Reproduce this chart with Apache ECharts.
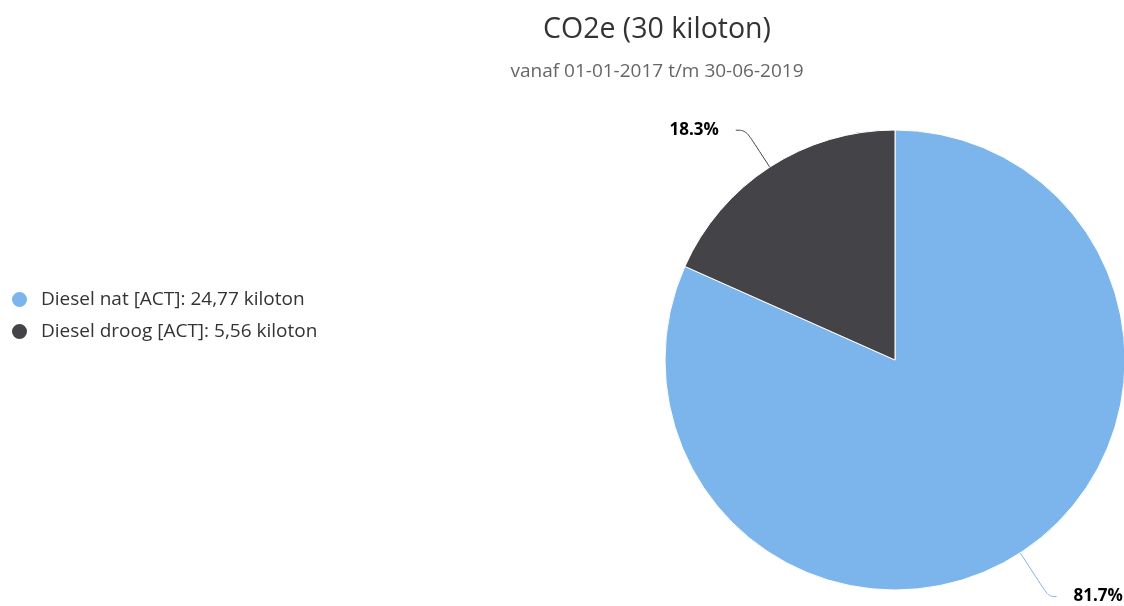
<!DOCTYPE html>
<html>
<head>
<meta charset="utf-8">
<script src="https://cdn.jsdelivr.net/npm/echarts@6/dist/echarts.min.js"></script>
<style>
html,body{margin:0;padding:0;background:#fff;}
#c{width:1124px;height:606px;}
</style>
</head>
<body>
<div id="c"></div>
<script>
const categories = ['Diesel nat [ACT]', 'Diesel droog [ACT]'];
const values = [24.77, 5.56];
const colors = ['#7cb5ec', '#434348'];
const unit = 'kiloton';

const total = values.reduce((a, b) => a + b, 0);
const fmt = v => v.toFixed(2).replace('.', ',');
const lineLengths = [[52, 8], [44, 10]];

const chart = echarts.init(document.getElementById('c'));
chart.setOption({
  animation: false,
  textStyle: { fontFamily: 'Open Sans' },
  title: [
    {
      text: 'CO2e (30 kiloton)',
      left: 652, top: 10, textAlign: 'center',
      textStyle: { fontFamily: 'Open Sans', fontSize: 28.5, fontWeight: 'normal', color: '#333333' }
    },
    {
      text: 'vanaf 01-01-2017 t/m 30-06-2019',
      left: 652, top: 57, textAlign: 'center',
      textStyle: { fontFamily: 'Open Sans', fontSize: 19, fontWeight: 'normal', color: '#666666' }
    }
  ],
  legend: {
    orient: 'vertical',
    left: 5, top: 285,
    icon: 'circle',
    itemWidth: 17, itemHeight: 17, itemGap: 13,
    data: categories,
    formatter: name => {
      const i = categories.indexOf(name);
      return name + ': ' + fmt(values[i]) + ' ' + unit;
    },
    textStyle: { fontFamily: 'Open Sans', fontSize: 19, color: '#333333', padding: [0, 0, 0, 8] }
  },
  series: [{
    type: 'pie',
    center: [895, 360],
    radius: 230,
    startAngle: 90,
    clockwise: true,
    data: categories.map((n, i) => ({
      name: n, value: values[i],
      itemStyle: { color: colors[i] },
      labelLine: { length: lineLengths[i][0], length2: lineLengths[i][1] }
    })),
    itemStyle: { borderColor: '#ffffff', borderWidth: 1 },
    label: {
      show: true,
      formatter: p => (p.value / total * 100).toFixed(1) + '%',
      fontFamily: 'Open Sans', fontSize: 17, fontWeight: 'bold', color: '#000000',
      distanceToLabelLine: 17,
      width: 70,
      bleedMargin: 0
    },
    labelLine: { show: true, smooth: 0.4, lineStyle: { width: 1 } },
    emphasis: { disabled: true }
  }]
});
</script>
</body>
</html>
